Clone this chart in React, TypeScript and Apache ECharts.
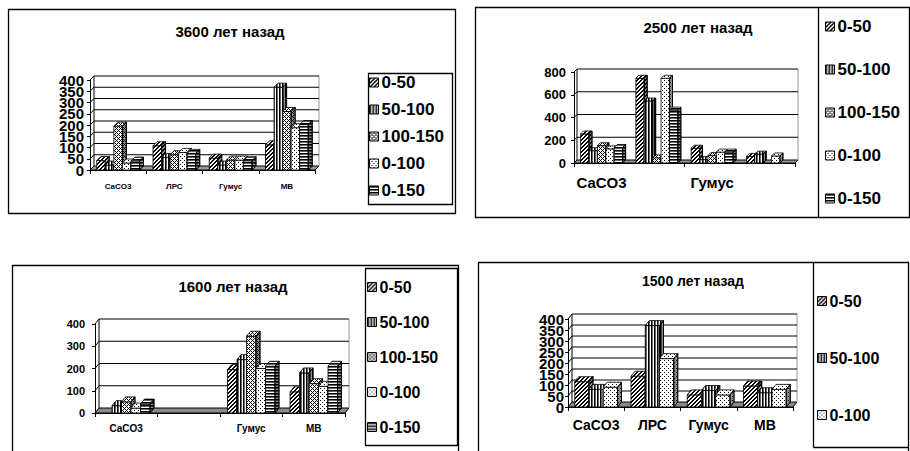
import { useEffect, useRef } from "react";
import * as echarts from "echarts";

// ---------- DATA ----------
const categories = ["CaCO3", "ЛРС", "Гумус", "МВ"];
const names5 = ["0-50", "50-100", "100-150", "0-100", "0-150"];
const names3 = ["0-50", "50-100", "0-100"];

// 3600 лет назад
const title3600 = "3600 лет назад";
const ticks3600 = [0, 50, 100, 150, 200, 250, 300, 350, 400];
const v3600_0_50 = [42, 108, 53, 112];
const v3600_50_100 = [22, 56, 22, 368];
const v3600_100_150 = [195, 68, 44, 260];
const v3600_0_100 = [31, 78, 44, 188];
const v3600_0_150 = [40, 74, 41, 202];

// 2500 лет назад
const title2500 = "2500 лет назад";
const ticks2500 = [0, 200, 400, 600, 800];
const v2500_0_50 = [255, 745, 130, 58];
const v2500_50_100 = [108, 545, 30, 78];
const v2500_100_150 = [152, 45, 65, null];
const v2500_0_100 = [124, 745, 96, 62];
const v2500_0_150 = [136, 465, 96, null];

// 1600 лет назад
const title1600 = "1600 лет назад";
const ticks1600 = [0, 100, 200, 300, 400];
const hidden1600 = ["ЛРС"];
const v1600_0_50 = [null, null, 195, 95];
const v1600_50_100 = [33, null, 240, 180];
const v1600_100_150 = [50, null, 345, 132];
const v1600_0_100 = [22, null, 200, 120];
const v1600_0_150 = [40, null, 210, 210];

// 1500 лет назад
const title1500 = "1500 лет назад";
const ticks1500 = [0, 50, 100, 150, 200, 250, 300, 350, 400];
const v1500_0_50 = [115, 140, 55, 95];
const v1500_50_100 = [80, 370, 75, 65];
const v1500_0_100 = [90, 220, 55, 80];

// ---------- STYLE / LAYOUT ----------
const FONT = "Liberation Sans, Arial, sans-serif";

function makePattern(w: number, h: number, fn: (x: number, y: number) => string | null) {
  const c = document.createElement("canvas");
  c.width = w;
  c.height = h;
  const ctx = c.getContext("2d")!;
  ctx.fillStyle = "#ffffff";
  ctx.fillRect(0, 0, w, h);
  for (let y = 0; y < h; y++)
    for (let x = 0; x < w; x++) {
      const col = fn(x, y);
      if (col) {
        ctx.fillStyle = col;
        ctx.fillRect(x, y, 1, 1);
      }
    }
  return { image: c, repeat: "repeat", imageWidth: w, imageHeight: h } as any;
}

function buildPatterns(): Record<string, any> {
  return {
    "0-50": makePattern(4, 4, (x, y) => ((x + y) % 4 < 2 ? "#000" : null)),
    "50-100": makePattern(3, 3, (x) => (x === 0 ? "#000" : x === 1 ? "#666" : null)),
    "100-150": makePattern(4, 4, (x, y) =>
      (x + y) % 4 === 0 || (x - y + 4) % 4 === 0 ? "#000" : null
    ),
    "0-100": makePattern(4, 4, (x, y) => ((x === 0 && y === 0) || (x === 2 && y === 2) ? "#000" : null)),
    "0-150": makePattern(3, 3, (_x, y) => (y === 0 ? "#000" : y === 1 ? "#666" : null)),
  };
}

type Panel = {
  title: string;
  names: string[];
  values: (number | null)[][];
  ticks: number[];
  hidden?: string[];
  grid: { left: number; top: number; width: number; height: number };
  max: number;
  interval: number;
  yFont: number;
  yMargin: number;
  xFont: number;
  xMargin: number;
  xInterval: number;
  depth: [number, number];
  floor: string;
  titlePos: [number, number, number];
  legend: { left: number; top: number; gap: number; font: number };
};

const panels: Panel[] = [
  {
    title: title3600,
    names: names5,
    values: [v3600_0_50, v3600_50_100, v3600_100_150, v3600_0_100, v3600_0_150],
    ticks: ticks3600,
    grid: { left: 90, top: 80, width: 225, height: 90 },
    max: 400, interval: 50, yFont: 15, yMargin: 6, xFont: 8, xMargin: 12, xInterval: 0,
    depth: [4, 4], floor: "#9a9a9a",
    titlePos: [230, 24, 15],
    legend: { left: 369, top: 74, gap: 10, font: 17 },
  },
  {
    title: title2500,
    names: names5,
    values: [v2500_0_50, v2500_50_100, v2500_100_150, v2500_0_100, v2500_0_150],
    ticks: ticks2500,
    grid: { left: 574, top: 72, width: 221, height: 91 },
    max: 800, interval: 200, yFont: 13, yMargin: 8, xFont: 15, xMargin: 12, xInterval: 1,
    depth: [3, 3], floor: "#9a9a9a",
    titlePos: [698, 20, 15],
    legend: { left: 825, top: 18, gap: 26, font: 17 },
  },
  {
    title: title1600,
    names: names5,
    values: [v1600_0_50, v1600_50_100, v1600_100_150, v1600_0_100, v1600_0_150],
    ticks: ticks1600,
    hidden: hidden1600,
    grid: { left: 95, top: 324, width: 250, height: 89 },
    max: 400, interval: 100, yFont: 11, yMargin: 10, xFont: 10, xMargin: 10, xInterval: 0,
    depth: [4, 5], floor: "#8a8a8a",
    titlePos: [233, 279, 15],
    legend: { left: 367, top: 279, gap: 19, font: 16 },
  },
  {
    title: title1500,
    names: names3,
    values: [v1500_0_50, v1500_50_100, v1500_0_100],
    ticks: ticks1500,
    grid: { left: 568, top: 319, width: 225, height: 88 },
    max: 400, interval: 50, yFont: 15, yMargin: 4, xFont: 14, xMargin: 11, xInterval: 0,
    depth: [4, 5], floor: "#8a8a8a",
    titlePos: [693, 274, 14],
    legend: { left: 817, top: 293, gap: 41, font: 16 },
  },
];

// back wall, floor, gridlines and value labels (one datum per tick)
function wallRender(depth: [number, number], floorColor: string, yFont: number, yMargin: number) {
  return (params: any, api: any) => {
    const cs = params.coordSys;
    const v = api.value(1);
    const y = api.coord([0, v])[1];
    const [dx, dy] = depth;
    const x0 = cs.x;
    const x1 = cs.x + cs.width;
    const children: any[] = [];
    if (params.dataIndex === 0) {
      const top = cs.y;
      children.push({
        type: "polygon",
        shape: { points: [[x0, y], [x1, y], [x1 + dx, y - dy], [x0 + dx, y - dy]] },
        style: { fill: floorColor, stroke: "#000", lineWidth: 1 },
      });
      children.push({
        type: "line",
        shape: { x1: x1 + dx, y1: y - dy, x2: x1 + dx, y2: top - dy },
        style: { stroke: "#999", lineWidth: 1 },
      });
      children.push({
        type: "line",
        shape: { x1: x0 + dx, y1: y - dy, x2: x0 + dx, y2: top - dy },
        style: { stroke: "#000", lineWidth: 1 },
      });
    } else {
      children.push({
        type: "polyline",
        shape: { points: [[x0, y], [x0 + dx, y - dy], [x1 + dx, y - dy]] },
        style: { stroke: "#000", lineWidth: 1, fill: null },
      });
    }
    children.push({
      type: "text",
      x: x0 - yMargin,
      y: y,
      style: {
        text: String(v),
        fill: "#000",
        font: `bold ${yFont}px ${FONT}`,
        align: "right",
        verticalAlign: "middle",
        textAlign: "right",
        textVerticalAlign: "middle",
      },
    });
    return { type: "group", children };
  };
}

function barRender(k: number, n: number, depth: [number, number], fill: any) {
  return (_params: any, api: any) => {
    const v = api.value(1);
    if (v == null || isNaN(v) || v <= 0) return null;
    const idx = api.value(0);
    const band = api.size([1, 0])[0];
    const base = api.coord([idx, 0]);
    const top = api.coord([idx, v]);
    const bw = (band * 0.76) / n;
    const x = base[0] - band / 2 + band * 0.12 + k * bw;
    const [dx, dy] = depth;
    const yt = top[1];
    const yb = base[1];
    const st = { stroke: "#000", lineWidth: 0.8 };
    const side = [[x + bw, yt], [x + bw + dx, yt - dy], [x + bw + dx, yb - dy], [x + bw, yb]];
    return {
      type: "group",
      children: [
        { type: "rect", shape: { x, y: yt, width: bw, height: yb - yt }, style: { fill, ...st } },
        {
          type: "polygon",
          shape: { points: [[x, yt], [x + bw, yt], [x + bw + dx, yt - dy], [x + dx, yt - dy]] },
          style: { fill, ...st },
        },
        { type: "polygon", shape: { points: side }, style: { fill, ...st } },
        { type: "polygon", shape: { points: side }, style: { fill: "rgba(0,0,0,0.45)", ...st } },
      ],
    };
  };
}

function buildOption() {
  const patterns = buildPatterns();
  const grid: any[] = [];
  const xAxis: any[] = [];
  const yAxis: any[] = [];
  const series: any[] = [];
  const legend: any[] = [];
  const title: any[] = [];

  panels.forEach((p, pi) => {
    grid.push({ ...p.grid, containLabel: false, outerBoundsMode: "none" });
    const hidden = p.hidden || [];
    xAxis.push({
      type: "category",
      gridIndex: pi,
      data: categories,
      boundaryGap: true,
      axisLine: { show: true, lineStyle: { color: "#000", width: 1 } },
      axisTick: { show: true, length: 4, lineStyle: { color: "#000" } },
      axisLabel: {
        interval: p.xInterval,
        fontSize: p.xFont,
        fontWeight: "bold",
        fontFamily: FONT,
        color: "#000",
        margin: p.xMargin,
        formatter: (v: string) => (hidden.indexOf(v) >= 0 ? "" : v),
      },
      splitLine: { show: false },
    });
    yAxis.push({
      type: "value",
      gridIndex: pi,
      min: 0,
      max: p.max,
      interval: p.interval,
      axisLine: { show: true, lineStyle: { color: "#000", width: 1 } },
      axisTick: { show: true, length: 3, lineStyle: { color: "#000" } },
      axisLabel: { show: false },
      splitLine: { show: false },
    });
    series.push({
      type: "custom",
      name: "wall" + pi,
      xAxisIndex: pi,
      yAxisIndex: pi,
      z: 1,
      silent: true,
      data: p.ticks.map((t) => [0, t]),
      encode: { x: 0, y: 1 },
      renderItem: wallRender(p.depth, p.floor, p.yFont, p.yMargin),
    });
    p.names.forEach((name, k) => {
      series.push({
        type: "custom",
        name,
        xAxisIndex: pi,
        yAxisIndex: pi,
        z: 3,
        itemStyle: { color: patterns[name], borderColor: "#000", borderWidth: 1 },
        data: p.values[k].map((v, i) => [i, v]),
        encode: { x: 0, y: 1 },
        renderItem: barRender(k, p.names.length, p.depth, patterns[name]),
      });
    });
    legend.push({
      data: p.names,
      orient: "vertical",
      left: p.legend.left,
      top: p.legend.top,
      padding: 0,
      itemGap: p.legend.gap,
      itemWidth: 9,
      itemHeight: 9,
      icon: "rect",
      selectedMode: false,
      itemStyle: { borderColor: "#000", borderWidth: 1 },
      textStyle: {
        fontSize: p.legend.font,
        fontWeight: "bold",
        fontFamily: FONT,
        color: "#000",
        padding: [0, 0, 0, -2],
      },
    });
    title.push({
      text: p.title,
      left: p.titlePos[0],
      top: p.titlePos[1],
      textAlign: "center",
      padding: 0,
      textStyle: { fontSize: p.titlePos[2], fontWeight: "bold", fontFamily: FONT, color: "#000" },
    });
  });

  const border = { fill: "none", stroke: "#000", lineWidth: 1.3 };
  const graphic = [
    { type: "rect", silent: true, shape: { x: 8.5, y: 9.5, width: 447, height: 204 }, style: border },
    { type: "rect", silent: true, shape: { x: 368.5, y: 73.5, width: 84, height: 131 }, style: border },
    { type: "rect", silent: true, shape: { x: 475.5, y: 7.5, width: 434, height: 210 }, style: border },
    { type: "line", silent: true, shape: { x1: 818.5, y1: 7.5, x2: 818.5, y2: 217.5 }, style: border },
    { type: "rect", silent: true, shape: { x: 12.5, y: 265.5, width: 446, height: 200 }, style: border },
    { type: "rect", silent: true, shape: { x: 365.5, y: 268.5, width: 92, height: 177 }, style: border },
    { type: "rect", silent: true, shape: { x: 478.5, y: 262.5, width: 430, height: 200 }, style: border },
    { type: "line", silent: true, shape: { x1: 813.5, y1: 262.5, x2: 813.5, y2: 447.5 }, style: border },
    { type: "line", silent: true, shape: { x1: 813.5, y1: 447.5, x2: 909, y2: 447.5 }, style: border },
  ];

  return {
    animation: false,
    backgroundColor: "#ffffff",
    textStyle: { fontFamily: FONT },
    title,
    grid,
    xAxis,
    yAxis,
    legend,
    series,
    graphic: { elements: graphic },
  };
}

export default function App() {
  const ref = useRef<HTMLDivElement>(null);
  useEffect(() => {
    if (!ref.current) return;
    const chart = echarts.init(ref.current, undefined, { renderer: "svg" });
    chart.setOption(buildOption() as any);
    return () => chart.dispose();
  }, []);
  return (
    <div
      ref={ref}
      style={{ position: "fixed", left: 0, top: 0, width: 910, height: 451, background: "#fff" }}
    />
  );
}
